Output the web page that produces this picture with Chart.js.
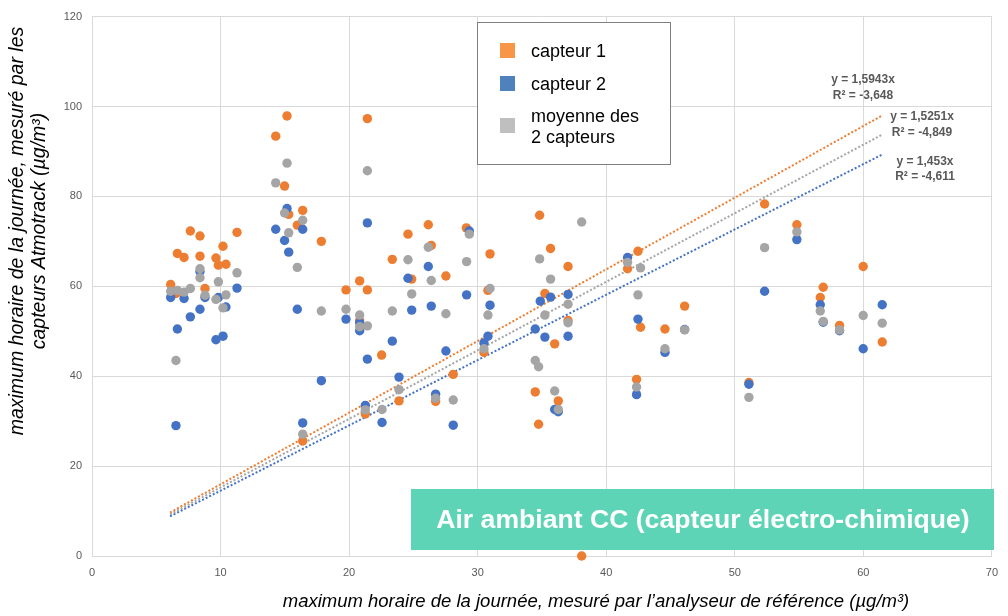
<!DOCTYPE html>
<html>
<head>
<meta charset="utf-8">
<script src="https://cdn.jsdelivr.net/npm/chart.js@4.4.1/dist/chart.umd.min.js"></script>
<style>
  html, body { margin: 0; padding: 0; background: #fff; }
  #wrap { width: 1008px; height: 616px; position: relative; }
</style>
</head>
<body>
<div id="wrap"><canvas id="scatterChart" width="1008" height="616"></canvas></div>
<script>
// x = maximum horaire mesuré par l'analyseur de référence, y = maximum horaire mesuré par le capteur
const seriesNames = ['capteur 1', 'capteur 2', 'moyenne des 2 capteurs'];

const capteur1 = [
  [6.12, 60.4], [6.53, 58.4], [6.64, 67.3], [7.16, 66.4], [7.65, 72.3], [8.40, 71.2], [8.40, 66.7],
  [8.79, 59.5], [9.64, 66.3], [9.83, 64.7], [10.19, 68.9], [10.42, 64.9], [11.28, 72.0], [14.29, 93.4],
  [14.98, 82.3], [15.17, 97.9], [15.30, 76.0], [15.97, 73.6], [16.39, 76.9], [16.39, 25.6], [17.84, 70.0],
  [19.76, 59.2], [20.82, 61.2], [20.82, 52.4], [21.26, 31.6], [21.42, 97.3], [21.42, 59.2], [22.53, 44.7],
  [23.36, 66.0], [23.88, 34.5], [24.58, 71.6], [24.87, 61.6], [26.16, 73.7], [26.39, 69.1], [26.73, 34.4],
  [27.53, 62.3], [28.10, 40.4], [29.12, 73.0], [30.49, 45.3], [30.80, 59.1], [30.96, 67.2], [34.48, 36.5],
  [34.74, 29.3], [34.82, 75.8], [35.23, 58.4], [35.67, 68.4], [35.99, 47.2], [36.27, 34.5], [37.03, 64.4],
  [37.03, 52.4], [38.09, 0], [41.66, 63.9], [42.36, 39.3], [42.47, 67.8], [42.67, 50.9], [44.57, 50.5],
  [46.10, 55.6], [51.10, 38.6], [52.32, 78.3], [54.83, 73.7], [56.65, 57.5], [56.88, 59.8], [58.15, 51.3],
  [59.99, 64.4], [61.47, 47.6]
];

const capteur2 = [
  [6.12, 57.5], [6.53, 29.0], [6.64, 50.5], [7.16, 57.3], [7.65, 53.2], [8.40, 63.3], [8.40, 54.9],
  [8.79, 57.5], [9.64, 48.1], [9.83, 57.5], [10.19, 48.9], [10.42, 55.4], [11.28, 59.6], [14.29, 72.7],
  [14.98, 70.2], [15.17, 77.3], [15.30, 67.6], [15.97, 54.9], [16.39, 72.7], [16.39, 29.6], [17.84, 39.0],
  [19.76, 52.7], [20.82, 50.1], [20.82, 51.9], [21.26, 33.5], [21.42, 74.1], [21.42, 43.8], [22.56, 29.7],
  [23.36, 47.8], [23.88, 39.8], [24.58, 61.8], [24.87, 54.7], [26.16, 64.4], [26.39, 55.6], [26.73, 36.0],
  [27.53, 45.6], [28.10, 29.1], [29.14, 58.1], [29.35, 72.3], [30.49, 47.4], [30.80, 48.9], [30.96, 55.8],
  [34.48, 50.5], [34.87, 56.7], [35.23, 48.7], [35.67, 57.6], [35.99, 32.6], [36.27, 32.1], [37.03, 58.2],
  [37.03, 48.9], [41.66, 66.4], [42.36, 35.9], [42.47, 52.7], [44.57, 45.3], [46.10, 50.4], [51.10, 38.2],
  [52.32, 58.9], [54.83, 70.4], [56.65, 55.9], [56.88, 52.0], [58.15, 50.1], [59.99, 46.1], [61.47, 55.9]
];

const moyenne = [
  [6.12, 58.9], [6.53, 43.5], [6.64, 59.1], [7.16, 58.7], [7.65, 59.5], [8.40, 63.9], [8.40, 61.9],
  [8.79, 58.0], [9.64, 57.1], [9.83, 61.0], [10.19, 55.2], [10.42, 58.1], [11.28, 63.0], [14.29, 83.0],
  [14.98, 76.3], [15.17, 87.4], [15.30, 71.9], [15.97, 64.2], [16.39, 74.7], [16.39, 27.1], [17.84, 54.5],
  [19.76, 54.9], [20.82, 53.6], [20.82, 51.0], [21.26, 32.5], [21.42, 85.7], [21.42, 51.2], [22.56, 32.6],
  [23.36, 54.5], [23.88, 37.0], [24.58, 65.9], [24.87, 58.3], [26.16, 68.7], [26.39, 61.3], [26.73, 35.1],
  [27.53, 53.9], [28.10, 34.7], [29.14, 65.5], [29.35, 71.6], [30.49, 46.1], [30.80, 53.6], [30.96, 59.5],
  [34.48, 43.5], [34.74, 42.1], [34.82, 66.1], [35.23, 53.6], [35.67, 61.6], [35.99, 36.7], [36.27, 32.6],
  [37.03, 56.0], [37.03, 51.9], [38.09, 74.3], [41.66, 65.3], [42.36, 37.6], [42.47, 58.1], [42.67, 64.1],
  [44.57, 46.1], [46.10, 50.3], [51.10, 35.3], [52.32, 68.6], [54.83, 72.1], [56.65, 54.5], [56.88, 52.2],
  [58.15, 50.3], [59.99, 53.5], [61.47, 51.8]
];

// courbes de tendance linéaires (passant par 0) : y = a.x
const trendSlopes = [1.5943, 1.453, 1.5251];
const trendR2 = ['-3,648', '-4,611', '-4,849'];
const trendRange = [6.07, 61.5];

const xTickValues = [0, 10, 20, 30, 40, 50, 60, 70];
const yTickValues = [0, 20, 40, 60, 80, 100, 120];

const colors = ['#ED7D31', '#4472C4', '#A5A5A5'];
const legendColors = ['#F79646', '#4F81BD', '#BFBFBF'];

const toPts = arr => arr.map(([x, y]) => ({ x, y }));
const trendPts = a => trendRange.map(x => ({ x, y: a * x }));

const extras = {
  id: 'extras',
  afterDatasetsDraw(chart) {
    const ctx = chart.ctx;
    ctx.save();

    // équations des courbes de tendance
    ctx.fillStyle = '#595959';
    ctx.font = 'bold 12px "Liberation Sans", Arial, sans-serif';
    ctx.textAlign = 'center';
    ctx.textBaseline = 'middle';
    ctx.fillText('y = 1,5943x', 863, 80);
    ctx.fillText('R² = ' + trendR2[0], 863, 96);
    ctx.fillText('y = 1,5251x', 922, 117);
    ctx.fillText('R² = ' + trendR2[2], 922, 133);
    ctx.fillText('y = 1,453x', 925, 162);
    ctx.fillText('R² = ' + trendR2[1], 925, 177);

    // légende
    ctx.fillStyle = '#fff';
    ctx.fillRect(477.5, 22.5, 193, 142);
    ctx.strokeStyle = '#7F7F7F';
    ctx.lineWidth = 1;
    ctx.strokeRect(477.5, 22.5, 193, 142);
    ctx.font = '18px "Liberation Sans", Arial, sans-serif';
    ctx.textAlign = 'left';
    ctx.fillStyle = legendColors[0]; ctx.fillRect(500, 43, 15, 15);
    ctx.fillStyle = legendColors[1]; ctx.fillRect(500, 76, 15, 15);
    ctx.fillStyle = legendColors[2]; ctx.fillRect(500, 118, 15, 15);
    ctx.fillStyle = '#000';
    ctx.fillText(seriesNames[0], 531, 52);
    ctx.fillText(seriesNames[1], 531, 85);
    ctx.fillText('moyenne des', 531, 117);
    ctx.fillText('2 capteurs', 531, 138);

    // encadré
    ctx.fillStyle = '#5DD4B5';
    ctx.fillRect(411, 489, 583, 61);
    ctx.fillStyle = '#fff';
    ctx.font = 'bold 26.6px "Liberation Sans", Arial, sans-serif';
    ctx.textAlign = 'center';
    ctx.fillText('Air ambiant CC (capteur électro-chimique)', 703, 521);

    // titres des axes
    ctx.fillStyle = '#000';
    ctx.font = 'italic 18.5px "Liberation Sans", Arial, sans-serif';
    ctx.fillText('maximum horaire de la journée, mesuré par l’analyseur de référence (µg/m³)', 596, 602);
    ctx.font = 'italic 19.5px "Liberation Sans", Arial, sans-serif';
    ctx.translate(18, 231);
    ctx.rotate(-Math.PI / 2);
    ctx.fillText('maximum horaire de la journée, mesuré par les', 0, 0);
    ctx.fillText('capteurs Atmotrack (µg/m³)', 0, 22);
    ctx.restore();
  }
};

const ctxScatter = document.getElementById('scatterChart').getContext('2d');
new Chart(ctxScatter, {
  type: 'scatter',
  data: {
    datasets: [
      { label: seriesNames[0], data: toPts(capteur1), backgroundColor: colors[0], borderWidth: 0, pointRadius: 4.7, order: 3, clip: false },
      { label: seriesNames[1], data: toPts(capteur2), backgroundColor: colors[1], borderWidth: 0, pointRadius: 4.7, order: 2, clip: false },
      { label: seriesNames[2], data: toPts(moyenne), backgroundColor: colors[2], borderWidth: 0, pointRadius: 4.7, order: 1, clip: false },
      { label: 'tendance 1', data: trendPts(trendSlopes[0]), showLine: true, borderColor: colors[0], borderWidth: 2, borderDash: [2, 2], pointRadius: 0, order: 4 },
      { label: 'tendance 2', data: trendPts(trendSlopes[1]), showLine: true, borderColor: colors[1], borderWidth: 2, borderDash: [2, 2], pointRadius: 0, order: 4 },
      { label: 'tendance moy', data: trendPts(trendSlopes[2]), showLine: true, borderColor: colors[2], borderWidth: 2, borderDash: [2, 2], pointRadius: 0, order: 4 }
    ]
  },
  options: {
    responsive: false,
    animation: false,
    events: [],
    layout: { padding: { left: 0, right: 16, top: 16, bottom: 0 } },
    plugins: { legend: { display: false }, tooltip: { enabled: false } },
    scales: {
      x: {
        type: 'linear',
        min: xTickValues[0],
        max: xTickValues[xTickValues.length - 1],
        afterBuildTicks: s => { s.ticks = xTickValues.map(v => ({ value: v })); },
        afterFit: s => { s.height = 60; },
        ticks: { color: '#595959', font: { size: 11, family: '"Liberation Sans", Arial' }, padding: 10 },
        grid: { color: '#D9D9D9', drawTicks: false },
        border: { color: '#D9D9D9' }
      },
      y: {
        min: yTickValues[0],
        max: yTickValues[yTickValues.length - 1],
        afterBuildTicks: s => { s.ticks = yTickValues.map(v => ({ value: v })); },
        afterFit: s => { s.width = 92; },
        ticks: { color: '#595959', font: { size: 11, family: '"Liberation Sans", Arial' }, padding: 10 },
        grid: { color: '#D9D9D9', drawTicks: false },
        border: { color: '#D9D9D9' }
      }
    }
  },
  plugins: [extras]
});
</script>
</body>
</html>
